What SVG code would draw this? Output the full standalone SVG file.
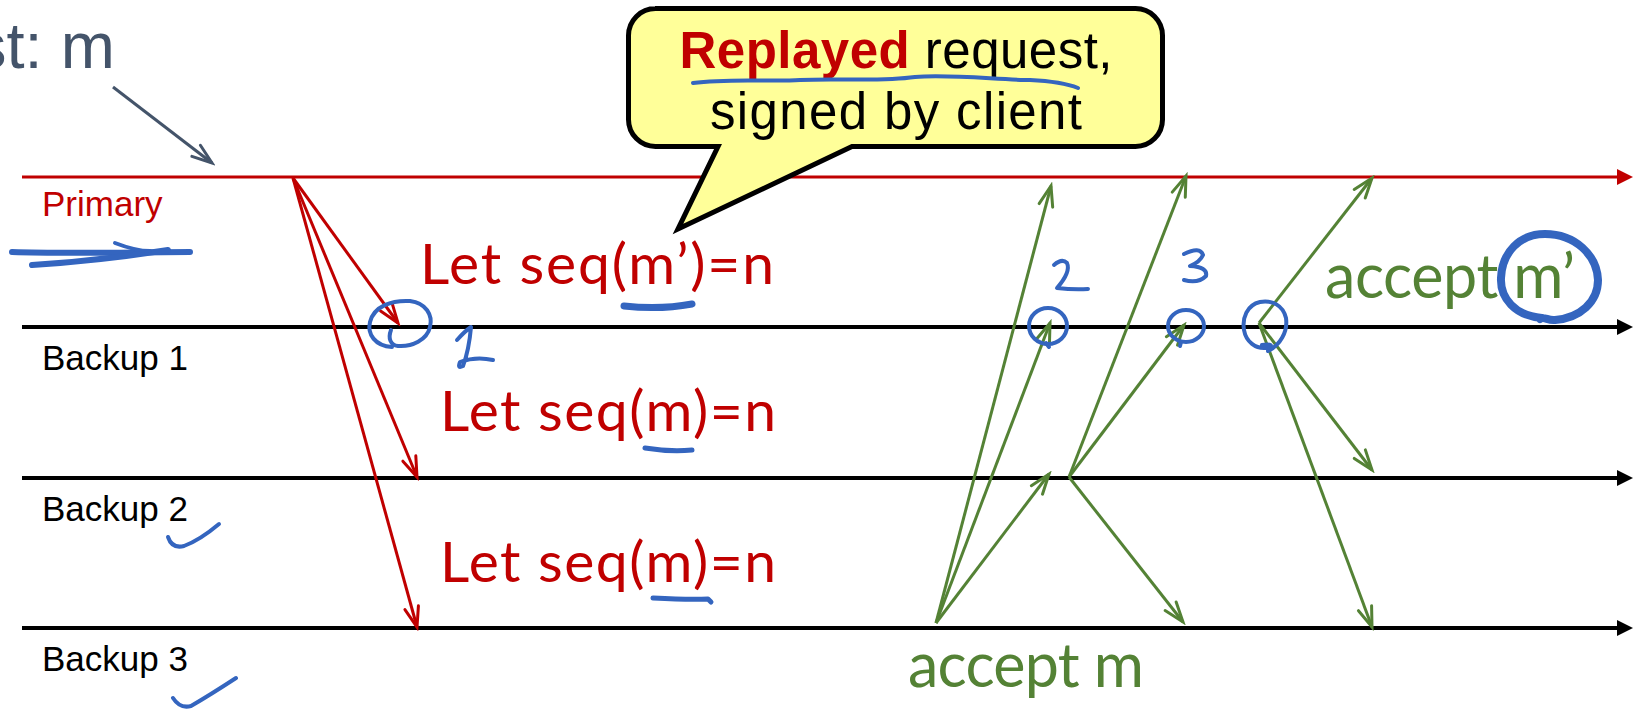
<svg xmlns="http://www.w3.org/2000/svg" width="1639" height="711" viewBox="0 0 1639 711">
  <defs>
    <style>
      .lane { stroke: #000; stroke-width: 4; fill: none; }
      .lane-primary { stroke: #C00000; stroke-width: 3; fill: none; }
      .lbl { font-family: "Liberation Sans", Arial, sans-serif; font-size: 35px; }
      .note { font-family: Lato, "Open Sans", sans-serif; }
      .ink { fill: none; stroke: #3465BF; stroke-linecap: round; stroke-linejoin: round; }
      .msg-r { stroke: #C00000; stroke-width: 3; fill: none; marker-end: url(#vRed); }
      .msg-g { stroke: #548235; stroke-width: 3; fill: none; marker-end: url(#vGreen); }
      .msg-s { stroke: #44546A; stroke-width: 3; fill: none; marker-end: url(#vSlate); }
    </style>
    <marker id="vRed" markerUnits="userSpaceOnUse" viewBox="-24 -12 28 24" markerWidth="28" markerHeight="24" refX="0" refY="0" orient="auto">
      <path d="M-20,-7 L0,0 L-20,7" fill="none" stroke="#C00000" stroke-width="3" stroke-linecap="round" stroke-linejoin="miter"/>
    </marker>
    <marker id="vGreen" markerUnits="userSpaceOnUse" viewBox="-24 -12 28 24" markerWidth="28" markerHeight="24" refX="0" refY="0" orient="auto">
      <path d="M-20,-7 L0,0 L-20,7" fill="none" stroke="#548235" stroke-width="3" stroke-linecap="round" stroke-linejoin="miter"/>
    </marker>
    <marker id="vSlate" markerUnits="userSpaceOnUse" viewBox="-24 -12 28 24" markerWidth="28" markerHeight="24" refX="0" refY="0" orient="auto">
      <path d="M-20,-7 L0,0 L-20,7" fill="none" stroke="#44546A" stroke-width="3" stroke-linecap="round" stroke-linejoin="miter"/>
    </marker>
  </defs>

  <rect width="1639" height="711" fill="#fff"/>

  <!-- incoming request label, running in from the left edge -->
  <g id="request">
    <text x="-26" y="68" font-family="'Liberation Sans', Arial, sans-serif" font-size="65" fill="#44546A">st: m</text>
  </g>

  <!-- time lines of the four replicas -->
  <g id="primary">
    <line class="lane-primary" x1="22" y1="177" x2="1620" y2="177"/>
    <polygon points="1617,169 1633,177 1617,185" fill="#C00000"/>
    <text class="lbl" x="42" y="216" fill="#C00000">Primary</text>
  </g>
  <g id="backup1">
    <line class="lane" x1="22" y1="327" x2="1620" y2="327"/>
    <polygon points="1617,319 1633,327 1617,335" fill="#000"/>
    <text class="lbl" x="42" y="370" fill="#000">Backup 1</text>
  </g>
  <g id="backup2">
    <line class="lane" x1="22" y1="478" x2="1620" y2="478"/>
    <polygon points="1617,470 1633,478 1617,486" fill="#000"/>
    <text class="lbl" x="42" y="521" fill="#000">Backup 2</text>
  </g>
  <g id="backup3">
    <line class="lane" x1="22" y1="628" x2="1620" y2="628"/>
    <polygon points="1617,620 1633,628 1617,636" fill="#000"/>
    <text class="lbl" x="42" y="671" fill="#000">Backup 3</text>
  </g>

  <!-- messages -->
  <g id="connectors">
    <line class="msg-s" x1="113" y1="87" x2="212" y2="163"/>

    <line class="msg-r" x1="293" y1="178" x2="398" y2="323"/>
    <line class="msg-r" x1="293" y1="178" x2="417" y2="477"/>
    <line class="msg-r" x1="293" y1="178" x2="417" y2="627"/>

    <line class="msg-g" x1="936" y1="623" x2="1051" y2="186"/>
    <line class="msg-g" x1="936" y1="623" x2="1050" y2="323"/>
    <line class="msg-g" x1="936" y1="623" x2="1049" y2="474"/>

    <line class="msg-g" x1="1069" y1="477" x2="1186" y2="176"/>
    <line class="msg-g" x1="1069" y1="477" x2="1184" y2="325"/>
    <line class="msg-g" x1="1069" y1="477" x2="1183" y2="622"/>

    <line class="msg-g" x1="1259" y1="323" x2="1372" y2="178"/>
    <line class="msg-g" x1="1259" y1="323" x2="1372" y2="470"/>
    <line class="msg-g" x1="1259" y1="323" x2="1372" y2="627"/>
  </g>

  <!-- sequence assignments -->
  <g id="assignments" class="note" fill="#C00000" font-size="57">
    <text x="420" y="284" textLength="354">Let seq(m’)=n</text>
    <text x="440" y="431" textLength="336">Let seq(m)=n</text>
    <text x="440" y="582" textLength="336">Let seq(m)=n</text>
  </g>

  <!-- accept outcomes -->
  <g id="outcomes" class="note" fill="#548235" font-size="61">
    <text x="1325" y="298" textLength="250">accept m’</text>
    <text x="908" y="687" textLength="236">accept m</text>
  </g>

  <!-- callout -->
  <g id="callout">
    <path d="M655,8.5 H1135.5 A27,27 0 0 1 1162.5,35.5 V119.5 A27,27 0 0 1 1135.5,146.5 H852 L678,229 L718,146.5 H655.5 A27,27 0 0 1 628.5,119.5 V35.5 A27,27 0 0 1 655.5,8.5 Z" fill="#FFFF99" stroke="#000" stroke-width="5" stroke-linejoin="miter"/>
    <text x="896" y="68" text-anchor="middle" font-family="'Liberation Sans', Arial, sans-serif" font-size="51" fill="#000" textLength="433"><tspan font-weight="bold" fill="#C00000">Replayed</tspan> request,</text>
    <text x="896" y="129" text-anchor="middle" font-family="'Liberation Sans', Arial, sans-serif" font-size="51" fill="#000" textLength="372">signed by client</text>
  </g>

  <!-- handwritten blue ink -->
  <g id="ink">
    <path class="ink" stroke-width="4" d="M693,83 C730,78 770,82 800,80 C840,78 880,82 915,77 C950,74 1000,80 1030,80 C1050,81 1068,84 1078,88"/>

    <path class="ink" stroke-width="6" d="M12,252 C70,254 140,252 190,252"/>
    <path class="ink" stroke-width="6" d="M32,265 C80,262 130,256 168,250"/>
    <path class="ink" stroke-width="4" d="M115,243 C128,248 140,251 150,251"/>

    <path class="ink" stroke-width="4" d="M168,537 Q172,549 184,546 Q200,540 219,524"/>
    <path class="ink" stroke-width="4" d="M173,698 Q180,709 191,706 Q210,695 236,678"/>

    <path class="ink" stroke-width="4" d="M392,347 C375,346 367,334 370,322 C374,306 392,300 410,301 C426,303 433,315 430,327 C427,340 412,347 398,346 C390,345 388,338 391,330"/>
    <path class="ink" stroke-width="4" d="M457,340 Q465,331 471,327 Q469,350 463,366 Q457,369 460,362 Q476,356 493,360"/>

    <path class="ink" stroke-width="7" d="M624,306 Q660,310 692,304"/>
    <path class="ink" stroke-width="5" d="M645,448 Q670,452 692,450"/>
    <path class="ink" stroke-width="5" d="M653,598 Q690,600 708,599 L711,602"/>

    <path class="ink" stroke-width="4" d="M1054,265 Q1062,258 1067,263 Q1071,272 1057,288 Q1074,290 1088,289"/>
    <ellipse class="ink" stroke-width="4" cx="1048" cy="326" rx="19" ry="18"/>
    <path class="ink" stroke-width="4" d="M1046,343 L1049,347"/>

    <path class="ink" stroke-width="4" d="M1184,254 Q1200,246 1203,255 Q1200,262 1190,266 Q1208,267 1206,276 Q1198,284 1184,280"/>
    <ellipse class="ink" stroke-width="4" cx="1186" cy="326" rx="18" ry="16"/>
    <path class="ink" stroke-width="4" d="M1181,342 L1180,346"/>

    <path class="ink" stroke-width="4" d="M1268,351 C1280,345 1288,332 1286,318 C1283,305 1272,300 1260,302 C1247,305 1242,318 1244,330 C1246,342 1256,349 1266,348 C1274,347 1272,343 1262,345"/>

    <path class="ink" stroke-width="8" d="M1542,318 C1515,316 1500,298 1501,278 C1502,252 1520,234 1545,234 C1575,234 1597,255 1598,280 C1598,302 1580,318 1555,320 C1548,321 1544,316 1540,319"/>
  </g>
</svg>
